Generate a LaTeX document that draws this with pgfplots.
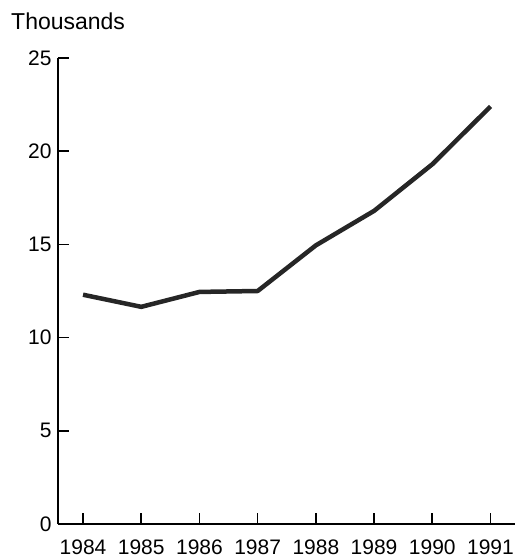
\documentclass[border=0pt]{standalone}
\usepackage{fontspec}
\setmainfont{Liberation Sans}
\usepackage{pgfplots}
\pgfplotsset{compat=1.18}
\begin{document}
\begin{tikzpicture}
\path[use as bounding box] (-58pt,-33pt) rectangle (461pt,524pt);
\begin{axis}[
  at={(0,0)}, anchor=south west,
  scale only axis,
  width=457pt, height=466pt,
  xmin=1983.57, xmax=1991.42,
  ymin=0, ymax=25,
  axis lines=left,
  axis line style={line width=2pt, -},
  xtick={1984,...,1991},
  ytick={0,5,...,25},
  xticklabel style={/pgf/number format/1000 sep={}, anchor=base, inner sep=0pt, yshift=-30pt},
  major tick length=11pt,
  tick style={line width=1.6pt, black},
  tick align=inside,
  ticklabel style={font=\fontsize{21}{25}\selectfont},
  /pgf/number format/assume math mode=true,
  yticklabel shift=3pt,
  clip=false,
]
\addplot[line width=4.5pt, color=black!85, line join=round] coordinates {
  (1984,12.3) (1985,11.65) (1986,12.45) (1987,12.5)
  (1988,14.95) (1989,16.8) (1990,19.3) (1991,22.4)
};
\end{axis}
\node[anchor=base west, font=\fontsize{23}{27}\selectfont, inner sep=0pt] at (-47pt,494pt) {Thousands};
\end{tikzpicture}
\end{document}
